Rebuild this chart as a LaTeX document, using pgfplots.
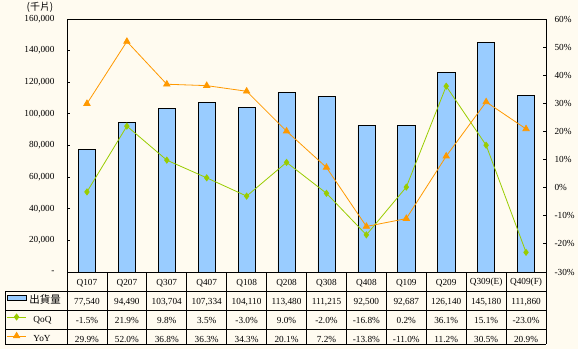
\documentclass[border=0pt]{standalone}
\usepackage{pgfplots}
\usepackage{pgfplotstable}
\pgfplotsset{compat=1.18}
\usepackage{fontspec}
\setmainfont{Liberation Serif}
\newfontfamily\cjk{Noto Sans CJK TC}
\definecolor{bg}{HTML}{FFFBF0}
\definecolor{barblue}{HTML}{99CCFF}
\definecolor{qoqc}{HTML}{99CC00}
\definecolor{yoyc}{HTML}{FF9900}

\pgfplotstableread{
x ship qoq yoy
0 77540 -1.5 29.9
1 94490 21.9 52.0
2 103704 9.8 36.8
3 107334 3.5 36.3
4 104110 -3.0 34.3
5 113480 9.0 20.1
6 111215 -2.0 7.2
7 92500 -16.8 -13.8
8 92687 0.2 -11.0
9 126140 36.1 11.2
10 145180 15.1 30.5
11 111860 -23.0 20.9
}\data

\begin{document}
\begin{tikzpicture}[x=1bp,y=1bp,font=\fontsize{9.3}{11}\selectfont]
\path[use as bounding box, fill=bg] (0,0) rectangle (578,349);

\begin{axis}[
  at={(67bp,77bp)}, anchor=south west, scale only axis,
  width=479bp, height=253bp,
  xmin=-0.5, xmax=11.5, ymin=0, ymax=160000,
  scaled y ticks=false,
  xtick=\empty,
  ytick={0,20000,40000,60000,80000,100000,120000,140000,160000},
  yticklabels={-,20{,}000,40{,}000,60{,}000,80{,}000,100{,}000,120{,}000,140{,}000,160{,}000},
  ytick pos=left, tick align=inside, major tick length=3bp,
  yticklabel style={xshift=-9bp},
  axis line style={line width=0.8bp},
  every tick/.style={black, line width=0.8bp},
  axis background/.style={fill=bg},
]
\addplot[ybar, bar width=0.43, fill=barblue, draw=black, line width=0.6bp] table[x=x,y=ship]{\data};
\end{axis}

\begin{axis}[
  at={(67bp,77bp)}, anchor=south west, scale only axis,
  width=479bp, height=253bp,
  xmin=-0.5, xmax=11.5, ymin=-30, ymax=60,
  axis x line=none, axis y line*=right,
  ytick={-30,-20,-10,0,10,20,30,40,50,60},
  yticklabels={-30\%,-20\%,-10\%,0\%,10\%,20\%,30\%,40\%,50\%,60\%},
  tick align=inside, major tick length=3bp,
  yticklabel style={xshift=5bp},
  axis line style={line width=0.8bp},
  every tick/.style={black, line width=0.8bp},
  legend image code/.code={\draw[mark repeat=2,mark phase=2] plot coordinates {(0bp,3bp) (9.5bp,3bp) (19bp,3bp)};},
  legend cell align=left,
  legend style={draw=none, fill=none, inner sep=0pt, outer sep=0pt,
    row sep=0pt, column sep=3bp,
    at={(-0.1259,-0.0771)}, anchor=north west,
    nodes={inner sep=0pt, text height=12bp, text depth=7bp},
    font=\fontsize{9.3}{11}\selectfont},
]
\addlegendimage{legend image code/.code={\draw[draw=black, fill=barblue, line width=0.6bp] (0bp,0.5bp) rectangle (19bp,6bp);}}
\addlegendentry{{\cjk\fontsize{10.5}{12}\selectfont 出貨量}}
\addplot[qoqc, line width=0.8bp, mark=diamond*, mark size=3bp, mark options={fill=qoqc, draw=qoqc}] table[x=x,y=qoq]{\data};
\addlegendentry{\hspace{4bp}QoQ}
\addplot[yoyc, line width=0.8bp, mark=triangle*, mark size=3.6bp, mark options={fill=yoyc, draw=yoyc}] table[x=x,y=yoy]{\data};
\addlegendentry{\hspace{4bp}YoY}
\end{axis}

% title of left axis
\node[font=\cjk\fontsize{10}{12}\selectfont] at (40,341.5) {(千片)};

% data table grid
\begin{scope}[line width=0.8bp]
\draw (67,77) -- (546,77);
\draw (5,58) -- (546,58);
\draw (5,39) -- (546,39);
\draw (5,19.5) -- (546,19.5);
\draw (5,5) -- (546,5);
\draw (5,58) -- (5,5);
\foreach \i in {0,...,12} { \draw ({67+39.9167*\i},77) -- ({67+39.9167*\i},5); }
\end{scope}

\foreach \t [count=\i from 0] in {Q107,Q207,Q307,Q407,Q108,Q208,Q308,Q408,Q109,Q209,Q309(E),Q409(F)}
  \node at ({67+39.9167*(\i+0.5)},66.3) {\t};
\foreach \t [count=\i from 0] in {{77,540},{94,490},{103,704},{107,334},{104,110},{113,480},{111,215},{92,500},{92,687},{126,140},{145,180},{111,860}}
  \node at ({67+39.9167*(\i+0.5)},47.3) {\t};
\foreach \t [count=\i from 0] in {-1.5\%,21.9\%,9.8\%,3.5\%,-3.0\%,9.0\%,-2.0\%,-16.8\%,0.2\%,36.1\%,15.1\%,-23.0\%}
  \node at ({67+39.9167*(\i+0.5)},28.3) {\t};
\foreach \t [count=\i from 0] in {29.9\%,52.0\%,36.8\%,36.3\%,34.3\%,20.1\%,7.2\%,-13.8\%,-11.0\%,11.2\%,30.5\%,20.9\%}
  \node at ({67+39.9167*(\i+0.5)},10) {\t};
\end{tikzpicture}
\end{document}
